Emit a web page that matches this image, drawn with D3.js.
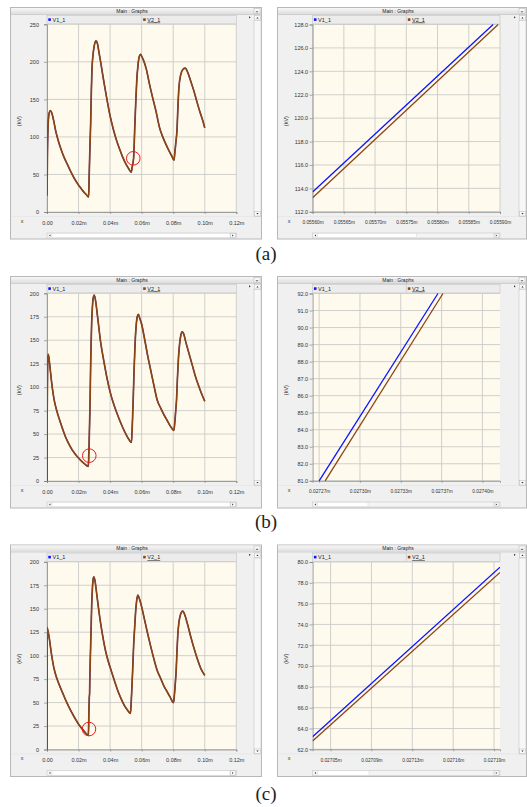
<!DOCTYPE html>
<html>
<head>
<meta charset="utf-8">
<script src="https://cdn.jsdelivr.net/npm/d3@7"></script>
<style>
  body { margin: 0; background: #fff; }
  svg { display: block; }
  text { font-family: "Liberation Sans", Arial, sans-serif; }
</style>
</head>
<body>
<svg id="chart" width="527" height="807"></svg>
<script>
// ---- full-range traces (t in s, v in kV), V1 lies under V2 here ----
var tA = [0, 0.0003, 0.0008, 0.0014, 0.0021, 0.0030, 0.0042, 0.0055, 0.0070, 0.0090, 0.0110, 0.0130, 0.0150, 0.0170, 0.0190, 0.0210, 0.0230, 0.0250, 0.0264,
  0.0267, 0.0272, 0.0277, 0.0281, 0.0285, 0.0291, 0.0300, 0.0311, 0.0320,
  0.0330, 0.0340, 0.0360, 0.0380, 0.0400, 0.0422, 0.0440, 0.0460, 0.0480, 0.0500, 0.0520, 0.0534,
  0.0540, 0.0549, 0.0557, 0.0563, 0.0569, 0.0577, 0.0585, 0.0593, 0.0601,
  0.0610, 0.0630, 0.0650, 0.0670, 0.0690, 0.0714, 0.0730, 0.0750, 0.0770, 0.0790, 0.0805,
  0.0810, 0.0817, 0.0824, 0.0830, 0.0836, 0.0848, 0.0862, 0.0877, 0.0890,
  0.0910, 0.0930, 0.0950, 0.0970, 0.0990, 0.1000];
var vA = [22, 80, 120, 132, 135, 132, 122, 108, 96, 83, 72, 63, 54, 46, 39, 33, 27.5, 23, 20,
  45, 85, 120, 160, 190, 208, 222, 228, 224,
  212, 200, 174, 150, 128, 109, 96, 84, 73, 64, 57, 53,
  60, 72, 116, 148, 175, 196, 207, 210, 207,
  203, 190, 170, 152, 135, 112, 102, 92, 83, 75, 69,
  78, 93, 109, 140, 165, 183, 190, 191.5, 187,
  175, 162, 147, 133, 120, 112];

var tB = [0, 0.0001, 0.0004, 0.0008, 0.0013, 0.0021, 0.0033, 0.0046, 0.0060, 0.0080, 0.0100, 0.0120, 0.0140, 0.0160, 0.0180, 0.0200, 0.0220, 0.0240, 0.0261,
  0.0264, 0.0267, 0.02705, 0.0273, 0.0276, 0.0279, 0.0283, 0.0288, 0.0293, 0.0299, 0.0306,
  0.0320, 0.0340, 0.0360, 0.0380, 0.0400, 0.0415, 0.0440, 0.0460, 0.0480, 0.0500, 0.0520, 0.0535,
  0.0539, 0.0543, 0.0547, 0.0552, 0.0558, 0.0565, 0.0572, 0.0579, 0.0587,
  0.0600, 0.0620, 0.0640, 0.0660, 0.0680, 0.0699, 0.0720, 0.0740, 0.0760, 0.0780, 0.0804,
  0.0810, 0.0816, 0.0821, 0.0827, 0.0833, 0.0840, 0.0848, 0.0857, 0.0866,
  0.0880, 0.0900, 0.0920, 0.0940, 0.0960, 0.0980, 0.1000];
var vB = [0, 70, 125, 135, 130, 118, 100, 86, 76, 65, 55, 46, 39, 33, 28.5, 24.5, 21, 18, 15.5,
  22, 40, 65, 84, 116, 142, 168, 186, 195, 198, 194,
  176, 148, 128, 110, 95, 86, 73.7, 65, 57, 50, 44, 41,
  52, 70, 90, 118, 145, 165, 175, 177.5, 174,
  167, 150, 132, 116, 100, 86, 78, 71, 65, 59, 54,
  62, 75, 86, 110, 130, 145, 155, 159, 157,
  148, 136, 124, 112, 102, 93, 85];

var tC = [0, 0.00005, 0.0005, 0.0013, 0.0028, 0.0045, 0.0060, 0.0080, 0.0100, 0.0120, 0.0140, 0.0160, 0.0180, 0.0200, 0.0220, 0.0240, 0.0262,
  0.0264, 0.0266, 0.0268, 0.0270, 0.0272, 0.0275, 0.0279, 0.0283, 0.0288, 0.0293, 0.0297, 0.0304,
  0.0315, 0.0330, 0.0350, 0.0370, 0.0390, 0.0406, 0.0430, 0.0450, 0.0470, 0.0490, 0.0510, 0.0529,
  0.0533, 0.0538, 0.0543, 0.0549, 0.0555, 0.0561, 0.0568, 0.0575, 0.0583,
  0.0600, 0.0620, 0.0640, 0.0660, 0.0680, 0.0698, 0.0720, 0.0740, 0.0760, 0.0780, 0.0802,
  0.0807, 0.0813, 0.0819, 0.0824, 0.0829, 0.0836, 0.0845, 0.0853, 0.0861, 0.0870,
  0.0890, 0.0910, 0.0930, 0.0950, 0.0976, 0.1000];
var vC = [0, 130, 127, 120, 102, 86, 77, 68, 60, 52, 45, 38.5, 32.5, 27, 22.5, 18.5, 15,
  25, 42, 55, 60, 80, 100, 125, 152, 172, 182, 184, 180,
  166, 146, 124, 106, 93, 84.5, 72, 62, 54, 47, 42, 38.5,
  48, 65, 84.5, 110, 128, 145, 158, 164.5, 162,
  152, 137, 122, 108, 95, 84.5, 76, 68, 62, 56, 50,
  57, 70, 84.5, 105, 122, 135, 143, 146.5, 147.5, 145,
  134, 121, 109, 98, 86, 79];

// red circle markers [t, v]
var markA = [0.0547, 71.5];
var markB = [0.0268, 27];
var markC = [0.0266, 21.8];

// ---- zoomed traces ----
var zTA1 = [0.05560, 0.055889], zVA1 = [113.7, 128.0];
var zTA2 = [0.05560, 0.055897], zVA2 = [113.2, 128.0];
var zTB1 = [0.02727, 0.0273646], zVB1 = [81.0, 92.0];
var zTB2 = [0.0272748, 0.0273686], zVB2 = [81.0, 92.0];
var zTC1 = [0.0270346, 0.0271951], zVC1 = [63.2, 79.5];
var zTC2 = [0.0270346, 0.0271951], zVC2 = [62.8, 79.0];

// ---- axes ----
var fullX = [0, 0.02, 0.04, 0.06, 0.08, 0.10, 0.12];
var fullXLabels = ["0.00", "0.02m", "0.04m", "0.06m", "0.08m", "0.10m", "0.12m"];
var yTicksA = [0, 50, 100, 150, 200, 250];
var yTicksBC = [0, 25, 50, 75, 100, 125, 150, 175, 200];

var zXDomA = [0.05560, 0.05590];
var zXA = [0.05560, 0.05565, 0.05570, 0.05575, 0.05580, 0.05585, 0.05590];
var zXLabA = ["0.05560m", "0.05565m", "0.05570m", "0.05575m", "0.05580m", "0.05585m", "0.05590m"];
var zYA = [112, 114, 116, 118, 120, 122, 124, 126, 128];

var zXDomB = [0.0272648, 0.027414];
var zXB = [0.02727, 0.0273025, 0.027335, 0.0273675, 0.0274];
var zXLabB = ["0.02727m", "0.02730m", "0.02733m", "0.02737m", "0.02740m"];
var zYB = [81, 82, 83, 84, 85, 86, 87, 88, 89, 90, 91, 92];

var zXDomC = [0.0270346, 0.0271951];
var zXC = [0.02705, 0.027085, 0.02712, 0.027155, 0.02719];
var zXLabC = ["0.02705m", "0.02709m", "0.02713m", "0.02716m", "0.02719m"];
var zYC = [62, 64, 66, 68, 70, 72, 74, 76, 78, 80];

var BLUE = "#0a14ff", BROWN = "#8b4513";

var svg = d3.select("#chart");
var defs = svg.append("defs");
var tg = defs.append("linearGradient").attr("id", "tbar").attr("x1", 0).attr("y1", 0).attr("x2", 0).attr("y2", 1);
tg.append("stop").attr("offset", "0%").attr("stop-color", "#f7f7f7");
tg.append("stop").attr("offset", "100%").attr("stop-color", "#dedede");

function zip(t, v) { return t.map(function (d, i) { return { t: d, v: v[i] }; }); }

function drawPanel(g, o) {
  var W = o.x1 - o.x0;
  // window body
  g.append("rect").attr("x", o.x0 + 0.5).attr("y", 7.5).attr("width", W - 1).attr("height", 231.5)
    .attr("fill", "#f0f0f0").attr("stroke", "#b8b8b8");
  g.append("rect").attr("x", o.x0 + 1).attr("y", 8).attr("width", W - 2).attr("height", 6).attr("fill", "url(#tbar)");
  g.append("line").attr("x1", o.x0 + 1).attr("x2", o.x1 - 1).attr("y1", 14.5).attr("y2", 14.5).attr("stroke", "#cfcfcf");
  g.append("text").attr("x", (o.x0 + o.x1 - 8) / 2).attr("y", 12.9).attr("text-anchor", "middle")
    .attr("font-size", 5).attr("fill", "#222").text("Main : Graphs");
  // minimise button
  g.append("rect").attr("x", o.x1 - 8).attr("y", 8.5).attr("width", 6).attr("height", 5)
    .attr("fill", "#fafafa").attr("stroke", "#b0b0b0").attr("stroke-width", 0.5);
  g.append("line").attr("x1", o.x1 - 6.2).attr("x2", o.x1 - 3.8).attr("y1", 11.8).attr("y2", 11.8).attr("stroke", "#333").attr("stroke-width", 0.8);

  var x = d3.scaleLinear().domain(o.xDom).range([o.px0, o.px1]);
  var y = d3.scaleLinear().domain(o.yDom).range([o.py1, o.py0]);
  var mid = (o.px0 + o.px1) / 2;

  // legend strip
  g.append("rect").attr("x", o.px0).attr("y", 15.5).attr("width", o.px1 - o.px0).attr("height", 8.5)
    .attr("fill", "#ececec").attr("stroke", "#c4c4c4").attr("stroke-width", 0.6);
  g.append("line").attr("x1", mid).attr("x2", mid).attr("y1", 15.5).attr("y2", 24).attr("stroke", "#c4c4c4").attr("stroke-width", 0.6);
  [[o.px0 + 1.3, BLUE, "V1_1", false], [mid + 1.5, BROWN, "V2_1", true]].forEach(function (it) {
    g.append("rect").attr("x", it[0]).attr("y", 18.3).attr("width", 2.6).attr("height", 2.6).attr("fill", it[1]);
    var tx = g.append("text").attr("x", it[0] + 4.2).attr("y", 21.6).attr("font-size", 5.5).attr("fill", "#222").text(it[2]);
    if (it[3]) tx.attr("text-decoration", "underline");
  });

  // top-right little buttons and vertical scrollbar
  g.append("path").attr("d", "M" + (o.x1 - 13) + ",16.2 l1.6,1.1 l-1.6,1.1 z").attr("fill", "#333");
  g.append("rect").attr("x", o.x1 - 7.5).attr("y", 15.5).attr("width", 6).attr("height", 4.5)
    .attr("fill", "#fafafa").attr("stroke", "#b8b8b8").attr("stroke-width", 0.5);
  g.append("path").attr("d", "M" + (o.x1 - 5.6) + ",18.6 l1.1,-1.5 l1.1,1.5 z").attr("fill", "#333");
  g.append("rect").attr("x", o.x1 - 8).attr("y", 20.5).attr("width", 7).attr("height", 196)
    .attr("fill", "#f7f7f7").attr("stroke", "#c8c8c8").attr("stroke-width", 0.6);
  g.append("rect").attr("x", o.x1 - 7.5).attr("y", 211.5).attr("width", 6).attr("height", 4.5)
    .attr("fill", "#fafafa").attr("stroke", "#b8b8b8").attr("stroke-width", 0.5);
  g.append("path").attr("d", "M" + (o.x1 - 5.6) + ",213 l2.2,0 l-1.1,1.5 z").attr("fill", "#333");

  // plot background and grid
  g.append("rect").attr("x", o.px0).attr("y", o.py0).attr("width", o.px1 - o.px0).attr("height", o.py1 - o.py0)
    .attr("fill", "#fffaee");
  g.append("g").selectAll("line").data(o.xTicks).enter().append("line")
    .attr("x1", function (d) { return x(d); }).attr("x2", function (d) { return x(d); })
    .attr("y1", o.py0).attr("y2", o.py1).attr("stroke", "#cbcbc6").attr("stroke-width", 0.9);
  g.append("g").selectAll("line").data(o.yTicks).enter().append("line")
    .attr("x1", o.px0).attr("x2", o.px1)
    .attr("y1", function (d) { return y(d); }).attr("y2", function (d) { return y(d); })
    .attr("stroke", "#cbcbc6").attr("stroke-width", 0.9);

  // axes
  var ya = g.append("g").attr("transform", "translate(" + o.px0 + ",0)")
    .call(d3.axisLeft(y).tickValues(o.yTicks).tickSize(3).tickPadding(o.yPad).tickFormat(o.yFmt));
  var xa = g.append("g").attr("transform", "translate(0," + o.py1 + ")")
    .call(d3.axisBottom(x).tickValues(o.xTicks).tickSize(2).tickPadding(7)
      .tickFormat(function (d, i) { return o.xLabels[i]; }));
  ya.selectAll("text").attr("font-size", 5.5).attr("fill", "#333");
  xa.selectAll("text").attr("font-size", o.xFont).attr("fill", "#333");
  [ya, xa].forEach(function (a) {
    a.select(".domain").attr("stroke", "#8a8a8a").attr("stroke-width", 0.8);
    a.selectAll(".tick line").attr("stroke", "#777").attr("stroke-width", 0.6);
  });

  // traces (clip rect lives in the panel's own coordinates)
  var line = d3.line().x(function (d) { return x(d.t); }).y(function (d) { return y(d.v); })
    .curve(d3.curveMonotoneX);
  var clipId = "clip" + o.id;
  defs.append("clipPath").attr("id", clipId).append("rect")
    .attr("x", o.px0).attr("y", o.py0 - 0.5).attr("width", o.px1 - o.px0).attr("height", o.py1 - o.py0 + 1);
  var lg = g.append("g").attr("clip-path", "url(#" + clipId + ")");
  o.series.forEach(function (s) {
    lg.append("path").datum(s.data).attr("d", line).attr("fill", "none")
      .attr("stroke", s.color).attr("stroke-width", s.w).attr("stroke-linejoin", "round");
  });
  if (o.mark) {
    g.append("circle").attr("cx", x(o.mark[0])).attr("cy", y(o.mark[1])).attr("r", 6.8)
      .attr("fill", "none").attr("stroke", "#f01818").attr("stroke-width", 1);
  }

  // axis names
  g.append("text").attr("transform", "translate(" + (o.x0 + 10.5) + "," + ((o.py0 + o.py1) / 2 + 3) + ") rotate(-90)")
    .attr("text-anchor", "middle").attr("font-size", 5.5).attr("fill", "#333").text("(kV)");
  g.append("text").attr("x", o.x0 + 12).attr("y", 222.5).attr("text-anchor", "middle")
    .attr("font-size", 5.5).attr("fill", "#333").text("x");
  g.append("line").attr("x1", o.x0 + 1).attr("x2", o.x1 - 9).attr("y1", 216.5).attr("y2", 216.5)
    .attr("stroke", "#e2e2e2").attr("stroke-width", 0.6);

  // horizontal scrollbar
  g.append("rect").attr("x", o.px0).attr("y", 233).attr("width", o.px1 - o.px0).attr("height", 5)
    .attr("fill", "#f4f4f4").attr("stroke", "#c8c8c8").attr("stroke-width", 0.6);
  g.append("rect").attr("x", o.px0 + 5).attr("y", 233.3).attr("width", o.thumb - o.px0 - 5).attr("height", 4.4)
    .attr("fill", "#ffffff").attr("stroke", "#d4d4d4").attr("stroke-width", 0.5);
  g.append("path").attr("d", "M" + (o.px0 + 3.4) + ",234.4 l-1.4,1.1 l1.4,1.1 z").attr("fill", "#333");
  g.append("rect").attr("x", o.px1 - 6).attr("y", 233.3).attr("width", 5).attr("height", 4.4)
    .attr("fill", "#fafafa").attr("stroke", "#b8b8b8").attr("stroke-width", 0.5);
  g.append("path").attr("d", "M" + (o.px1 - 4.2) + ",234.4 l1.4,1.1 l-1.4,1.1 z").attr("fill", "#333");
}

var rows = [
  { y0: 0, lab: "(a)", labY: 259.6, t: tA, v: vA, yTicks: yTicksA, yDom: [0, 250], mark: markA,
    z1: zip(zTA1, zVA1), z2: zip(zTA2, zVA2), zDom: zXDomA, zX: zXA, zXL: zXLabA, zY: zYA, zThumb: 416.5 },
  { y0: 269, lab: "(b)", labY: 528.3, t: tB, v: vB, yTicks: yTicksBC, yDom: [0, 200], mark: markB,
    z1: zip(zTB1, zVB1), z2: zip(zTB2, zVB2), zDom: zXDomB, zX: zXB, zXL: zXLabB, zY: zYB, zThumb: 368 },
  { y0: 537.5, lab: "(c)", labY: 799.6, t: tC, v: vC, yTicks: yTicksBC, yDom: [0, 200], mark: markC,
    z1: zip(zTC1, zVC1), z2: zip(zTC2, zVC2), zDom: zXDomC, zX: zXC, zXL: zXLabC, zY: zYC, zThumb: 369 }
];

rows.forEach(function (r, i) {
  var g = svg.append("g").attr("transform", "translate(0," + r.y0 + ")");
  var full = zip(r.t, r.v);
  drawPanel(g, {
    id: "L" + i, x0: 10, x1: 262, px0: 47, px1: 236.3, py0: 24.3, py1: 212,
    xDom: [0, 0.12], yDom: r.yDom, xTicks: fullX, xLabels: fullXLabels, yTicks: r.yTicks,
    yFmt: d3.format("d"), yPad: 5, xFont: 5.5, thumb: 230, mark: r.mark,
    series: [{ data: full, color: BLUE, w: 1.2 }, { data: full, color: BROWN, w: 1.7 }]
  });
  drawPanel(g, {
    id: "R" + i, x0: 277, x1: 527, px0: 312.6, px1: 500, py0: 24.5, py1: 211.8,
    xDom: r.zDom, yDom: d3.extent(r.zY), xTicks: r.zX, xLabels: r.zXL, yTicks: r.zY,
    yFmt: d3.format(".1f"), yPad: 1.5, xFont: 4.8, thumb: r.zThumb, mark: null,
    series: [{ data: r.z1, color: BLUE, w: 1.3 }, { data: r.z2, color: BROWN, w: 1.3 }]
  });
  svg.append("text").attr("x", 266).attr("y", r.labY).attr("text-anchor", "middle")
    .style("font-family", "'Liberation Serif', 'DejaVu Serif', serif").attr("font-size", 19)
    .attr("fill", "#222").text(r.lab);
});
</script>
</body>
</html>
